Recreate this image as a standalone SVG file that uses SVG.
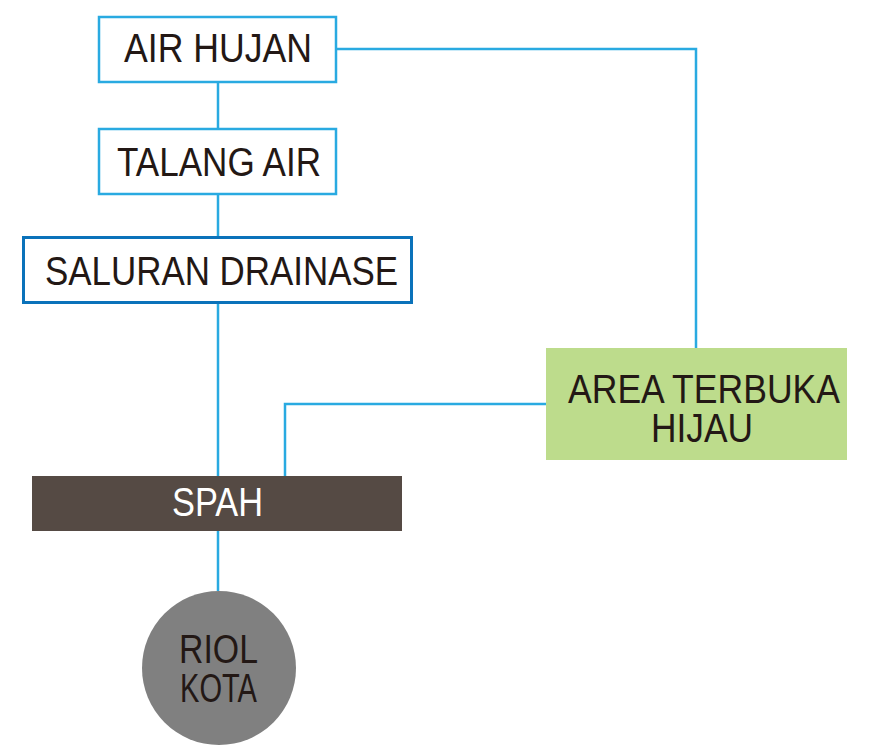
<svg xmlns="http://www.w3.org/2000/svg" width="874" height="752" viewBox="0 0 874 752">
<style>
.t{font-family:"Liberation Sans","DejaVu Sans",sans-serif;font-size:41px;fill:#231815;}
.w{fill:#ffffff;}
.c{fill:none;stroke:#29aae1;stroke-width:2.5;}
</style>
<rect width="874" height="752" fill="#ffffff"/>
<g id="connectors">
<path class="c" d="M218 82V129M218 194V237M218 303V477M218 531V591"/>
<path class="c" d="M336 49H696V348"/>
<path class="c" d="M546 404H285V477"/>
</g>
<g id="air-hujan">
<rect x="99" y="17" width="237" height="65" fill="#fff" stroke="#29aae1" stroke-width="2.5"/>
<text class="t" x="124" y="62" textLength="188" lengthAdjust="spacingAndGlyphs">AIR HUJAN</text>
</g>
<g id="talang-air">
<rect x="99" y="129" width="237" height="65" fill="#fff" stroke="#29aae1" stroke-width="2.5"/>
<text class="t" x="117" y="176" textLength="204" lengthAdjust="spacingAndGlyphs">TALANG AIR</text>
</g>
<g id="saluran-drainase">
<rect x="23.5" y="237.5" width="388" height="65" fill="#fff" stroke="#0a72ba" stroke-width="3"/>
<text class="t" x="45" y="285" textLength="353" lengthAdjust="spacingAndGlyphs">SALURAN DRAINASE</text>
</g>
<g id="area-terbuka-hijau">
<rect x="546" y="348" width="301" height="112" fill="#bddc8c"/>
<text class="t" x="568" y="403" textLength="272" lengthAdjust="spacingAndGlyphs">AREA TERBUKA</text>
<text class="t" x="651" y="442" textLength="102" lengthAdjust="spacingAndGlyphs">HIJAU</text>
</g>
<g id="spah">
<rect x="32" y="476" width="370" height="55" fill="#554a44"/>
<text class="t w" x="172" y="516" textLength="91" lengthAdjust="spacingAndGlyphs">SPAH</text>
</g>
<g id="riol-kota">
<circle cx="219" cy="668" r="77" fill="#808080"/>
<text class="t" x="179" y="663" textLength="79" lengthAdjust="spacingAndGlyphs">RIOL</text>
<text class="t" x="180" y="702" textLength="77" lengthAdjust="spacingAndGlyphs">KOTA</text>
</g>
</svg>
